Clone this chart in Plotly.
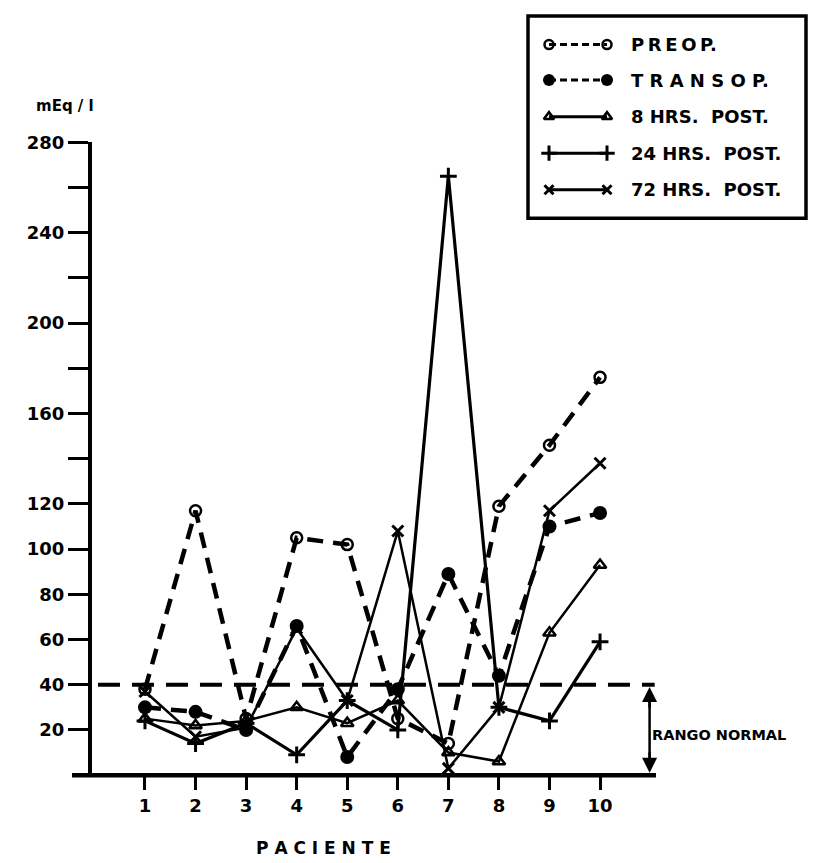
import plotly.graph_objects as go

# ---------------- data ----------------
pacientes = [1, 2, 3, 4, 5, 6, 7, 8, 9, 10]
preop = [38, 117, 25, 105, 102, 25, 14, 119, 146, 176]
transop = [30, 28, 20, 66, 8, 38, 89, 44, 110, 116]
h8_post = [25, 22, 24, 30, 23, 33, 10, 6, 63, 93]
h24_post = [24, 14, 23, 9, 33, 20, 265, 30, 24, 59]
h72_post = [37, 17, 21, 65, 33, 108, 3, 30, 117, 138]

y_tickvals = [20, 40, 60, 80, 100, 120, 140, 160, 180, 200, 220, 240, 260, 280]
y_ticktext = ["20", "40", "60", "80", "100", "120", "", "160", "", "200", "", "240", "", "280"]
x_tickvals = pacientes
x_ticktext = ["1", "2", "3", "4", "5", "6", "7", "8", "9", "10"]
normal_limit = 40

TS = "\u2009"  # thin space for letter spacing
legend_labels = [TS.join("PREOP") + ".", " ".join("TRANSOP") + ".",
                 "8 HRS.  POST.", "24 HRS.  POST.", "72 HRS.  POST."]

FONT = "DejaVu Sans"
BLACK = "#000000"

# figure geometry (pixels)
W, H = 814, 863
PX_L, PX_R = 92, 655
PX_B, PX_T = 774, 133

fig = go.Figure()

styles = [
    dict(name=legend_labels[0], y=preop, dash="16px,10px", width=4.5,
         marker=dict(symbol="circle-open", size=11, line=dict(width=2.5, color=BLACK), color=BLACK)),
    dict(name=legend_labels[1], y=transop, dash="16px,10px", width=4.5,
         marker=dict(symbol="circle", size=14, color=BLACK)),
    dict(name=legend_labels[2], y=h8_post, dash="solid", width=2.5,
         marker=dict(symbol="triangle-up-open", size=11, line=dict(width=2.5, color=BLACK), color=BLACK)),
    dict(name=legend_labels[3], y=h24_post, dash="solid", width=3.2,
         marker=dict(symbol="cross-thin-open", size=12, line=dict(width=3, color=BLACK), color=BLACK)),
    dict(name=legend_labels[4], y=h72_post, dash="solid", width=2.5,
         marker=dict(symbol="x-thin-open", size=11, line=dict(width=3, color=BLACK), color=BLACK)),
]

# normal limit dashed line
fig.add_trace(go.Scatter(
    x=[0.07, 11.08], y=[normal_limit, normal_limit], mode="lines",
    line=dict(color=BLACK, width=4, dash="22px,12px"), showlegend=False, hoverinfo="skip"))

for s in styles:
    fig.add_trace(go.Scatter(
        x=pacientes, y=s["y"], mode="lines+markers", name=s["name"],
        line=dict(color=BLACK, width=s["width"], dash=s["dash"]),
        marker=s["marker"], showlegend=False, cliponaxis=False))

# ---------------- manual legend (pixel axes covering whole figure) ----------------
row_y = [34, 70, 107, 144, 181]
mk_x0, mk_x1, txt_x = 549, 607, 629
legend_sizes = {"circle": 12, "circle-open": 9, "triangle-up-open": 9,
                "cross-thin-open": 11, "x-thin-open": 9}
for s, ry in zip(styles, row_y):
    m = dict(s["marker"])
    m["size"] = legend_sizes[m["symbol"]]
    fig.add_trace(go.Scatter(
        x=[mk_x0, mk_x1], y=[ry, ry], xaxis="x2", yaxis="y2", mode="lines+markers",
        line=dict(color=BLACK, width=3, dash="7px,4px" if "px" in s["dash"] else "solid"),
        marker=m, showlegend=False, hoverinfo="skip", cliponaxis=False))
    fig.add_annotation(x=txt_x, y=ry, xref="x2", yref="y2", text="<b>" + s["name"] + "</b>",
                       showarrow=False, xanchor="left", yanchor="middle",
                       font=dict(family=FONT, size=18, color=BLACK))

shapes = [
    # legend box
    dict(type="rect", xref="x2", yref="y2", x0=528, x1=806, y0=5, y1=210,
         line=dict(color=BLACK, width=3.5)),
    # x axis line (extends left of y axis)
    dict(type="line", xref="x2", yref="y2", x0=72, x1=656, y0=PX_B, y1=PX_B,
         line=dict(color=BLACK, width=4.5)),
    # rango normal vertical
    dict(type="line", xref="x", yref="y", x0=10.98, x1=10.98, y0=36, y1=4,
         line=dict(color=BLACK, width=2.5)),
]
fig.update_layout(shapes=shapes)

# arrowheads for normal range
fig.add_annotation(x=10.98, y=39, xref="x", yref="y", ax=0, ay=22, showarrow=True,
                   arrowhead=2, arrowsize=1.2, arrowwidth=2.5, arrowcolor=BLACK, text="")
fig.add_annotation(x=10.98, y=1, xref="x", yref="y", ax=0, ay=-22, showarrow=True,
                   arrowhead=2, arrowsize=1.2, arrowwidth=2.5, arrowcolor=BLACK, text="")
fig.add_annotation(x=650, y=733, xref="x2", yref="y2", text="<b>RANGO NORMAL</b>",
                   showarrow=False, xanchor="left", yanchor="middle",
                   font=dict(family=FONT, size=14.5, color=BLACK))

# axis labels
fig.add_annotation(x=34, y=96, xref="x2", yref="y2", text="<b>mEq / l</b>",
                   showarrow=False, xanchor="left", yanchor="middle",
                   font=dict(family=FONT, size=15, color=BLACK))
fig.add_annotation(x=323, y=848, xref="x2", yref="y2", text="<b>P A C I E N T E</b>",
                   showarrow=False, xanchor="center", yanchor="middle",
                   font=dict(family=FONT, size=17, color=BLACK))

fig.update_layout(
    width=W, height=H, margin=dict(l=0, r=0, t=0, b=0),
    paper_bgcolor="white", plot_bgcolor="rgba(0,0,0,0)",
    showlegend=False,
    font=dict(family=FONT, color=BLACK),
    xaxis=dict(domain=[PX_L / W, PX_R / W], range=[-0.048, 11.087],
               tickvals=x_tickvals, ticktext=["<b>%s</b>" % t for t in x_ticktext],
               ticks="outside", ticklen=14, tickwidth=2.5, tickcolor=BLACK,
               showline=False, showgrid=False, zeroline=False,
               tickfont=dict(family=FONT, size=18, color=BLACK), anchor="y"),
    yaxis=dict(domain=[(H - PX_B) / H, (H - PX_T) / H], range=[0, 280],
               tickvals=y_tickvals, ticktext=["<b>%s</b>" % t for t in y_ticktext],
               ticks="outside", ticklen=20, tickwidth=3, tickcolor=BLACK,
               showline=True, linewidth=4, linecolor=BLACK,
               showgrid=False, zeroline=False,
               tickfont=dict(family=FONT, size=18, color=BLACK), anchor="x"),
    xaxis2=dict(domain=[0, 1], range=[0, W], visible=False, anchor="y2", fixedrange=True),
    yaxis2=dict(domain=[0, 1], range=[H, 0], visible=False, anchor="x2", fixedrange=True),
)

fig.write_html("out.html")
